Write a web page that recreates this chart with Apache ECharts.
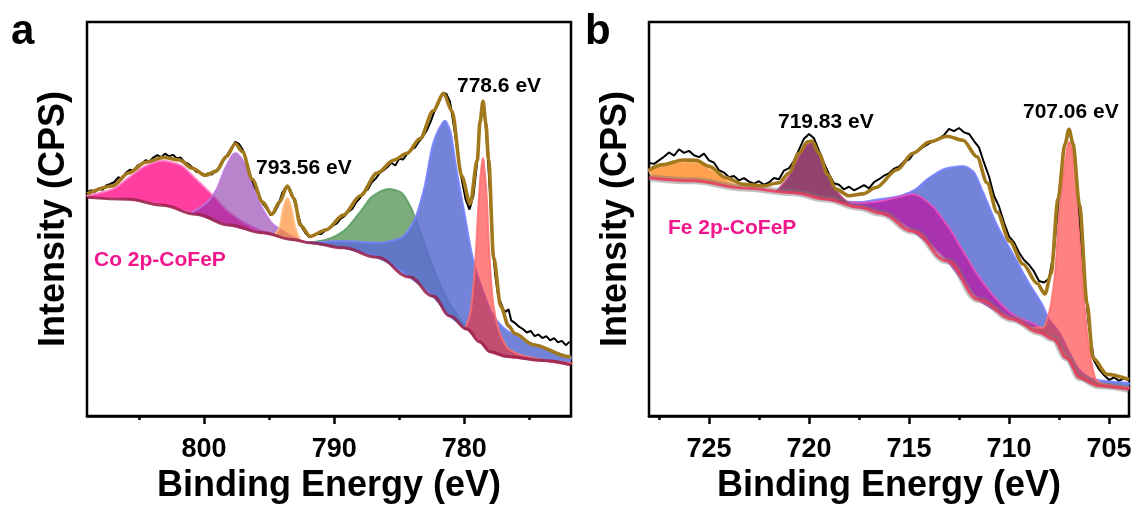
<!DOCTYPE html>
<html><head><meta charset="utf-8">
<script src="https://cdn.jsdelivr.net/npm/echarts@6/dist/echarts.min.js"></script>
<style>html,body{margin:0;padding:0;background:#fff}#c{width:1139px;height:509px}</style>
</head><body><div id="c"></div><script>
// ---------------- Panel a : Co 2p ----------------
const coAxisRange = [771.8, 809.0];
const coTicks = [800, 790, 780];
const coMinorTicks = [805, 795, 785, 775];

const coRaw = [[809.0,56.8],[808.7,57.3],[808.4,56.9],[808.1,57.8],[807.8,57.4],[807.5,58.6],[807.2,58.9],[806.9,59.4],[806.6,60.6],[806.3,60.2],[806.0,61.8],[805.7,62.5],[805.4,62.3],[805.1,63.6],[804.8,64.0],[804.5,64.9],[804.2,64.6],[803.9,65.6],[803.6,66.2],[803.3,65.7],[803.0,66.6],[802.7,65.9],[802.4,66.3],[802.1,65.4],[801.8,65.6],[801.5,64.4],[801.2,64.0],[800.9,63.1],[800.6,62.0],[800.3,61.8],[800.0,61.0],[799.7,61.6],[799.4,61.3],[799.1,62.3],[798.8,63.0],[798.5,64.9],[798.2,66.4],[797.9,68.0],[797.6,69.6],[797.3,69.0],[797.0,67.4],[796.7,64.0],[796.4,60.6],[796.1,58.0],[795.8,56.1],[795.5,54.0],[795.2,52.7],[794.9,51.0],[794.6,51.6],[794.3,53.5],[794.0,56.6],[793.7,58.2],[793.4,57.6],[793.1,55.0],[792.8,51.2],[792.5,48.0],[792.2,46.4],[791.9,45.4],[791.6,45.8],[791.3,46.3],[791.0,46.2],[790.7,47.1],[790.4,47.6],[790.1,48.3],[789.8,48.9],[789.5,50.1],[789.2,50.8],[788.9,51.9],[788.6,52.6],[788.3,54.3],[788.0,55.4],[787.7,56.9],[787.4,57.6],[787.1,59.4],[786.8,60.3],[786.5,61.7],[786.2,62.4],[785.9,63.2],[785.6,64.3],[785.3,63.6],[785.0,65.3],[784.7,65.1],[784.4,66.5],[784.1,67.6],[783.8,68.1],[783.5,69.6],[783.2,70.8],[782.9,72.4],[782.6,74.6],[782.3,77.3],[782.0,79.2],[781.7,81.6],[781.4,81.9],[781.1,79.8],[780.8,73.5],[780.5,66.5],[780.2,60.1],[779.9,55.0],[779.6,52.4],[779.3,56.0],[779.0,64.8],[778.8,74.0],[778.6,79.6],[778.4,75.5],[778.2,66.1],[778.0,55.2],[777.8,42.0],[777.6,35.2],[777.4,30.5],[777.2,28.8],[777.0,27.0],[776.8,26.5],[776.6,27.1],[776.4,24.3],[776.1,23.6],[775.8,22.7],[775.5,22.1],[775.2,21.2],[774.9,21.6],[774.6,20.3],[774.3,20.7],[774.0,19.8],[773.7,20.3],[773.4,19.2],[773.1,19.8],[772.8,18.7],[772.5,19.1],[772.2,18.0],[771.9,18.9]];

const coEnvelope = [[809.0,56.4],[807.05,58.4],[805.8,61.7],[804.5,64.4],[803.1,65.6],[801.9,65.0],[800.9,62.9],[799.9,61.1],[799.1,62.1],[798.3,65.8],[797.6,69.1],[797.05,67.1],[796.3,60.1],[795.5,54.3],[794.8,51.2],[794.2,54.3],[793.6,58.4],[793.1,55.2],[792.6,48.5],[791.85,45.6],[790.6,47.3],[789.3,51.0],[788.0,55.9],[786.7,61.7],[785.4,65.0],[784.4,66.7],[783.4,70.4],[782.4,77.4],[781.6,81.9],[780.95,77.4],[780.2,60.9],[779.55,53.9],[779.0,65.0],[778.8,74.5],[778.56,79.9],[778.35,74.5],[778.13,65.0],[777.75,40.3],[777.2,27.9],[776.6,22.9],[776.1,20.9],[774.7,18.1],[772.0,15.1],[771.8,15.0]];

const coBackground = [[809.0,55.5],[805.8,55.0],[803.2,53.5],[800.6,51.2],[798.1,48.5],[795.5,46.5],[793.2,44.8],[791.85,44.0],[789.3,42.7],[786.7,40.3],[784.2,35.3],[782.4,30.4],[781.1,25.4],[779.8,22.1],[778.8,18.8],[778.0,16.3],[776.7,15.1],[774.0,14.1],[771.8,13.0]];

const coPeakPink = [[809.0,55.9],[807.05,57.6],[805.8,60.5],[804.5,63.5],[803.2,64.8],[801.9,63.8],[800.6,60.1],[799.3,55.9],[798.1,51.8],[796.8,48.9],[795.5,46.9],[794.4,45.7]];
const coPeakPurple = [[801.0,51.6],[799.9,53.9],[799.1,57.2],[798.3,63.4],[797.6,66.7],[796.9,64.2],[796.3,58.4],[795.5,52.6],[794.75,48.9],[793.7,46.5],[792.5,44.4]];
const coPeakOrange = [[794.6,45.8],[794.2,48.0],[793.9,53.0],[793.6,55.3],[793.3,53.0],[793.0,48.0],[792.6,44.5]];
const coPeakGreen = [[791.85,44.0],[790.6,44.8],[789.3,46.9],[788.0,51.8],[787.0,55.9],[785.8,57.6],[784.9,56.8],[784.2,53.5],[783.4,46.9],[782.4,37.8],[781.3,29.5],[780.3,24.6],[779.7,21.8]];
const coPeakBlue = [[791.85,44.0],[789.3,44.4],[786.7,44.0],[784.9,45.2],[783.9,49.3],[783.1,57.6],[782.4,69.1],[781.8,73.7],[781.5,74.9],[781.1,72.5],[780.6,62.5],[780.05,52.6],[779.3,39.4],[778.5,31.2],[777.75,25.4],[776.7,21.7],[776.1,20.5],[774.0,17.3],[771.8,14.9]];
const coPeakRed = [[779.9,22.4],[779.54,26.2],[779.15,39.4],[778.9,54.3],[778.75,61.0],[778.56,65.4],[778.4,60.9],[778.25,54.0],[778.13,44.4],[777.75,27.9],[777.2,20.5],[776.5,16.8],[774.2,14.4],[771.8,13.4]];

// ---------------- Panel b : Fe 2p ----------------
const feAxisRange = [704.0, 728.0];
const feTicks = [725, 720, 715, 710, 705];
const feMinorTicks = [727.5, 722.5, 717.5, 712.5, 707.5];

const feRaw = [[728.0,64.2],[727.75,64.0],[727.5,64.9],[727.25,65.8],[727.0,66.9],[726.75,66.1],[726.5,67.7],[726.25,66.8],[726.0,67.3],[725.75,66.2],[725.5,65.7],[725.25,66.6],[725.0,64.9],[724.75,64.3],[724.5,62.4],[724.25,61.8],[724.0,60.6],[723.75,60.9],[723.5,59.8],[723.25,60.4],[723.0,59.5],[722.75,59.0],[722.5,59.6],[722.25,58.7],[722.0,59.3],[721.75,60.4],[721.5,60.1],[721.25,62.3],[721.0,62.9],[720.75,64.8],[720.5,67.6],[720.25,70.4],[720.0,71.6],[719.75,70.5],[719.5,67.3],[719.25,64.2],[719.0,61.4],[718.75,59.1],[718.5,58.7],[718.25,57.5],[718.0,58.2],[717.75,57.3],[717.5,57.9],[717.25,58.6],[717.0,57.8],[716.75,59.4],[716.5,60.1],[716.25,61.0],[716.0,61.6],[715.75,62.8],[715.5,63.3],[715.25,64.6],[715.0,65.1],[714.75,66.8],[714.5,67.5],[714.25,68.4],[714.0,69.2],[713.75,69.9],[713.5,70.4],[713.25,71.3],[713.0,72.9],[712.75,72.3],[712.5,73.1],[712.25,72.0],[712.0,71.6],[711.75,69.8],[711.5,68.2],[711.25,64.3],[711.0,60.8],[710.75,55.9],[710.5,53.2],[710.25,49.1],[710.0,45.6],[709.75,44.1],[709.5,41.5],[709.25,39.6],[709.0,38.4],[708.75,36.7],[708.5,34.3],[708.25,33.9],[708.0,34.9],[707.75,42.0],[707.5,56.6],[707.25,67.9],[707.0,72.5],[706.75,68.2],[706.5,53.0],[706.25,36.0],[706.0,22.6],[705.75,14.1],[705.5,11.9],[705.25,10.4],[705.0,9.2],[704.75,9.8],[704.5,9.0],[704.25,9.5],[704.0,9.1]];

const feEnvelope = [[728.0,62.5],[727.3,63.8],[726.3,65.0],[725.65,64.9],[725.0,63.4],[724.15,60.5],[723.3,58.8],[722.3,58.4],[721.5,59.2],[721.0,61.7],[720.5,66.7],[720.07,69.6],[719.85,69.8],[719.5,66.7],[719.07,61.3],[718.65,57.6],[718.0,55.9],[717.3,56.4],[716.65,58.0],[715.6,62.5],[714.8,66.7],[713.97,69.6],[713.1,71.0],[712.3,70.0],[711.6,65.8],[711.1,59.2],[710.6,51.8],[709.97,44.4],[709.3,38.6],[708.6,33.7],[708.2,31.0],[707.9,36.1],[707.55,55.1],[707.2,69.1],[707.0,72.8],[706.8,69.1],[706.47,53.5],[706.1,28.7],[705.8,14.7],[705.1,10.6],[704.0,9.3]];

const feBackground = [[728.0,60.5],[725.8,59.7],[723.3,57.9],[720.8,56.7],[719.15,55.1],[717.5,53.0],[716.4,51.5],[714.8,46.9],[713.1,39.4],[711.5,29.5],[709.8,24.6],[708.5,21.3],[707.8,19.6],[707.1,14.7],[706.45,9.7],[705.5,7.7],[704.0,6.8]];

const fePeakOrange = [[728.0,62.4],[727.3,63.6],[726.3,64.6],[725.65,64.4],[725.0,62.9],[724.15,60.1],[723.4,58.0]];
const fePeakMaroon = [[721.6,57.1],[721.0,60.9],[720.5,65.8],[720.1,68.8],[719.85,69.3],[719.5,66.6],[719.0,60.9],[718.5,56.4],[717.9,53.5]];
const fePeakBlue = [[719.3,55.3],[718.5,54.6],[717.5,54.3],[716.5,55.0],[715.6,55.7],[714.8,57.2],[713.97,60.5],[713.1,62.9],[712.3,63.4],[711.8,62.1],[711.3,56.8],[710.6,48.5],[709.8,41.1],[709.0,33.7],[708.3,27.9],[708.0,24.6],[707.5,21.3],[707.0,16.3],[706.5,11.9],[705.8,9.4],[704.0,8.4]];
const fePeakMagenta = [[719.2,55.0],[717.5,54.1],[716.5,54.5],[715.6,55.5],[714.8,56.3],[713.97,53.9],[713.1,48.5],[712.3,41.9],[711.5,35.3],[710.6,29.5],[709.8,25.8],[708.6,22.9],[707.9,19.9]];
const fePeakRed = [[709.6,24.2],[708.8,22.4],[708.3,22.4],[708.0,26.2],[707.7,36.1],[707.5,51.0],[707.2,64.2],[707.0,69.5],[706.8,66.5],[706.6,57.6],[706.3,32.8],[705.95,15.5],[705.6,8.9],[704.8,7.7],[704.0,7.2]];

// ---------------- rendering helpers ----------------
const FONT = '"Liberation Sans", Arial, Helvetica, sans-serif';

// monotone cubic smoothing used only to draw the filled peak shapes
function monotoneSamples(points, steps) {
  const p = points.slice().sort((a, b) => a[0] - b[0]);
  const n = p.length;
  if (n < 2) return p;
  const h = [], d = [];
  for (let i = 0; i < n - 1; i++) { h[i] = p[i+1][0] - p[i][0]; d[i] = (p[i+1][1] - p[i][1]) / h[i]; }
  const m = new Array(n);
  m[0] = d[0]; m[n-1] = d[n-2];
  for (let i = 1; i < n - 1; i++) {
    if (d[i-1] * d[i] <= 0) m[i] = 0;
    else { const w1 = 2*h[i] + h[i-1], w2 = h[i] + 2*h[i-1]; m[i] = (w1 + w2) / (w1 / d[i-1] + w2 / d[i]); }
  }
  const out = [];
  for (let i = 0; i < n - 1; i++) {
    for (let s = 0; s < steps; s++) {
      const t = s / steps, t2 = t*t, t3 = t2*t;
      const h00 = 2*t3 - 3*t2 + 1, h10 = t3 - 2*t2 + t, h01 = -2*t3 + 3*t2, h11 = t3 - t2;
      out.push([p[i][0] + t*h[i], h00*p[i][1] + h10*h[i]*m[i] + h01*p[i+1][1] + h11*h[i]*m[i+1]]);
    }
  }
  out.push(p[n-1]);
  return out;
}

function peakSeries(xIdx, yIdx, peak, bg, fill, stroke) {
  const bgDense = monotoneSamples(bg, 14);
  return {
    type: 'custom', xAxisIndex: xIdx, yAxisIndex: yIdx, data: peak, silent: true,
    encode: { x: 0, y: 1 },
    renderItem: function (params, api) {
      if (params.dataIndex !== 0) return null;
      const top = monotoneSamples(peak, 14);
      const lo = top[0][0], hi = top[top.length - 1][0];
      const bottom = bgDense.filter(q => q[0] > lo && q[0] < hi).reverse();
      const pts = top.concat(bottom).map(q => api.coord(q));
      return { type: 'polygon', shape: { points: pts }, style: { fill: fill, stroke: stroke, lineWidth: 2 } };
    }
  };
}

function lineSeries(xIdx, yIdx, data, color, width, smooth) {
  return {
    type: 'line', xAxisIndex: xIdx, yAxisIndex: yIdx, data: data, showSymbol: false, symbol: 'none',
    smooth: smooth, smoothMonotone: 'x', silent: true, lineStyle: { color: color, width: width }
  };
}

function majorAxis(grid, range, ticks) {
  return {
    type: 'value', gridIndex: grid, min: range[0], max: range[1], inverse: true,
    axisLine: { show: true, lineStyle: { color: '#000', width: 2.5 } },
    axisTick: { show: true, inside: false, length: 8, customValues: ticks, lineStyle: { color: '#000', width: 2.5 } },
    axisLabel: { show: true, customValues: ticks, margin: 20, color: '#000', fontSize: 27, fontWeight: 'bold', fontFamily: FONT },
    splitLine: { show: false },
    name: 'Binding Energy (eV)', nameLocation: 'middle', nameGap: 37,
    nameTextStyle: { color: '#000', fontSize: 36, fontWeight: 'bold', fontFamily: FONT }
  };
}
function minorAxis(grid, range, ticks) {
  return {
    type: 'value', gridIndex: grid, min: range[0], max: range[1], inverse: true, position: 'bottom',
    axisLine: { show: false },
    axisTick: { show: true, inside: false, length: 4, customValues: ticks, lineStyle: { color: '#000', width: 2.5 } },
    axisLabel: { show: false, customValues: ticks },
    splitLine: { show: false }
  };
}
function yAxisDef(grid) {
  return {
    type: 'value', gridIndex: grid, min: 0, max: 100,
    axisLine: { show: false }, axisTick: { show: false }, axisLabel: { show: false }, splitLine: { show: false },
    name: 'Intensity (CPS)', nameLocation: 'middle', nameGap: 15,
    nameTextStyle: { color: '#000', fontSize: 36, fontWeight: 'bold', fontFamily: FONT }
  };
}

function txt(x, y, text, size, color) {
  return { type: 'text', x: x, y: y, silent: true, z: 100,
    style: { text: text, fill: color, font: 'bold ' + size + 'px ' + FONT,
             align: 'left', verticalAlign: 'middle', textAlign: 'left', textVerticalAlign: 'middle' } };
}

const BLUE_FILL = 'rgba(90,109,209,0.85)';
const BLUE_EDGE = 'rgba(120,130,255,0.9)';

const chart = echarts.init(document.getElementById('c'), null, { renderer: 'canvas' });
chart.setOption({
  animation: false,
  backgroundColor: '#fff',
  grid: [
    { left: 87, top: 22, width: 484, height: 404, show: true, borderColor: '#000', borderWidth: 2.5, backgroundColor: 'transparent' },
    { left: 649, top: 22, width: 480, height: 404, show: true, borderColor: '#000', borderWidth: 2.5, backgroundColor: 'transparent' }
  ],
  xAxis: [
    majorAxis(0, coAxisRange, coTicks), minorAxis(0, coAxisRange, coMinorTicks),
    majorAxis(1, feAxisRange, feTicks), minorAxis(1, feAxisRange, feMinorTicks)
  ],
  yAxis: [yAxisDef(0), yAxisDef(1)],
  series: [
    // panel a
    peakSeries(0, 0, coPeakPink, coBackground, 'rgba(255,20,140,0.82)', 'rgba(255,130,200,0.85)'),
    peakSeries(0, 0, coPeakPurple, coBackground, 'rgba(140,50,170,0.60)', 'rgba(190,120,225,0.85)'),
    peakSeries(0, 0, coPeakOrange, coBackground, 'rgba(255,140,50,0.68)', 'rgba(255,190,130,0.85)'),
    peakSeries(0, 0, coPeakGreen, coBackground, 'rgba(30,110,30,0.58)', 'rgba(90,160,100,0.9)'),
    peakSeries(0, 0, coPeakBlue, coBackground, BLUE_FILL, BLUE_EDGE),
    peakSeries(0, 0, coPeakRed, coBackground, 'rgba(255,40,40,0.58)', 'rgba(255,110,110,0.85)'),
    lineSeries(0, 0, coBackground, 'rgba(150,30,70,0.85)', 3, 0.4),
    lineSeries(0, 0, coRaw, '#000', 2, false),
    lineSeries(0, 0, coEnvelope, '#A2781C', 3.6, 0.3),
    // panel b
    peakSeries(2, 1, fePeakBlue, feBackground, BLUE_FILL, BLUE_EDGE),
    peakSeries(2, 1, fePeakMagenta, feBackground, 'rgba(200,0,150,0.62)', 'rgba(240,80,190,0.85)'),
    peakSeries(2, 1, fePeakOrange, feBackground, 'rgba(255,130,20,0.75)', 'rgba(255,190,120,0.85)'),
    peakSeries(2, 1, fePeakMaroon, feBackground, 'rgba(115,15,70,0.78)', 'rgba(190,70,130,0.85)'),
    peakSeries(2, 1, fePeakRed, feBackground, 'rgba(255,40,40,0.58)', 'rgba(255,110,110,0.85)'),
    lineSeries(2, 1, feBackground, 'rgba(120,120,120,0.45)', 7, 0.4),
    lineSeries(2, 1, feBackground, 'rgba(230,60,90,0.85)', 3, 0.4),
    lineSeries(2, 1, feRaw, '#000', 2, false),
    lineSeries(2, 1, feEnvelope, '#A2781C', 3.6, 0.3)
  ],
  graphic: [
    txt(11, 32, 'a', 42, '#000'),
    txt(585, 32, 'b', 42, '#000'),
    txt(457, 86, '778.6 eV', 21, '#000'),
    txt(256, 168, '793.56 eV', 21, '#000'),
    txt(94, 260, 'Co 2p-CoFeP', 21, '#F0168C'),
    txt(778, 122, '719.83 eV', 21, '#000'),
    txt(1023, 112, '707.06 eV', 21, '#000'),
    txt(668, 228, 'Fe 2p-CoFeP', 21, '#F0168C')
  ]
});
</script></body></html>
